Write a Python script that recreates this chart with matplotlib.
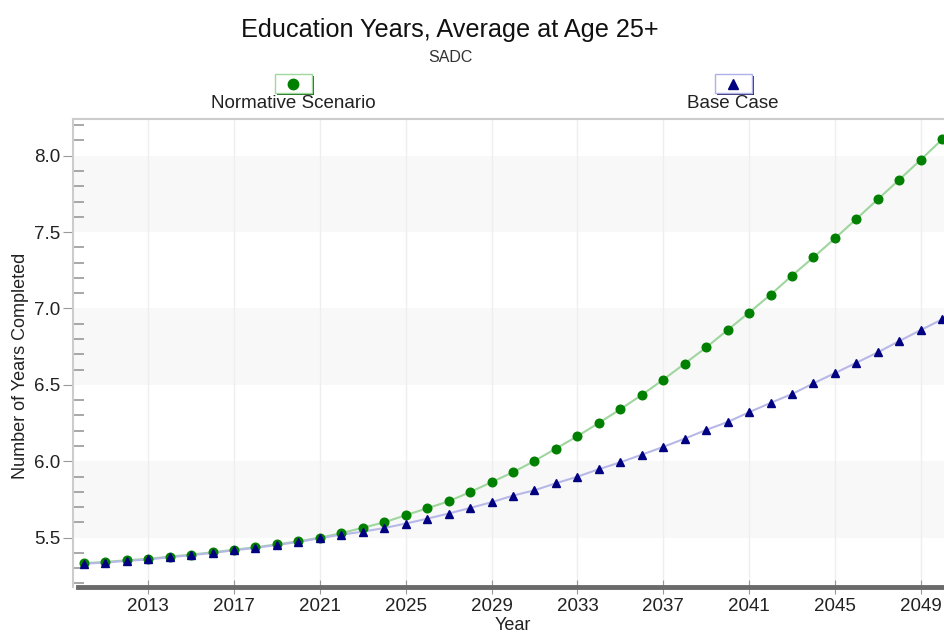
import matplotlib
matplotlib.use("Agg")
import matplotlib.pyplot as plt
from matplotlib.patches import Rectangle
from matplotlib.lines import Line2D
from matplotlib.ticker import MultipleLocator, FormatStrFormatter

plt.rcParams['font.family'] = ['Liberation Sans', 'DejaVu Sans']

years = list(range(2010, 2051))
normative = [5.333, 5.341, 5.352, 5.361, 5.376, 5.389, 5.404, 5.421, 5.437, 5.456,
             5.476, 5.500, 5.529, 5.565, 5.600, 5.647, 5.692, 5.738, 5.798, 5.863,
             5.928, 6.002, 6.083, 6.164, 6.251, 6.340, 6.434, 6.534, 6.639, 6.745,
             6.859, 6.973, 7.090, 7.215, 7.335, 7.459, 7.586, 7.715, 7.843, 7.974,
             8.107]
base_case = [5.329, 5.337, 5.348, 5.357, 5.372, 5.385, 5.400, 5.417, 5.433, 5.452,
             5.472, 5.496, 5.520, 5.539, 5.563, 5.592, 5.624, 5.658, 5.694, 5.732,
             5.775, 5.810, 5.856, 5.899, 5.948, 5.993, 6.043, 6.094, 6.148, 6.205,
             6.257, 6.321, 6.382, 6.440, 6.510, 6.577, 6.645, 6.713, 6.787, 6.859,
             6.929]
series_names = ["Normative Scenario", "Base Case"]
xtick_years = list(range(2013, 2050, 4))

W, H = 944, 634
fig = plt.figure(figsize=(W / 100, H / 100), dpi=100)

def fx(px):
    return px / W

def fy(py):
    return 1 - py / H

ax = fig.add_axes([fx(73), fy(587), (953 - 73) / W, (587 - 119) / H])
ax.set_xlim(2009.5, 2050.5)
ax.set_ylim(5.177, 8.240)

# alternating bands
for lo in [5.5, 6.5, 7.5]:
    ax.axhspan(lo, lo + 0.5, color='#f8f8f8', zorder=0, lw=0)
for xt in xtick_years:
    ax.axvline(xt, color='#eeeeee', lw=1, zorder=0.5)

green_c = '#008000'
navy_c = '#000080'
ax.plot(years, normative, color='#9ed69e', lw=1.5, zorder=2)
ax.plot(years, normative, ls='none', marker='o', ms=6.2, color=green_c, zorder=3)
ax.plot(years, base_case, color='#b8b8e8', lw=1.5, zorder=2)
ax.plot(years, base_case, ls='none', marker='^', ms=6.2, color=navy_c, zorder=4)

ax.set_xticks(xtick_years)
ax.set_yticks([5.5, 6.0, 6.5, 7.0, 7.5, 8.0])
ax.yaxis.set_major_formatter(FormatStrFormatter('%.1f'))
ax.yaxis.set_minor_locator(MultipleLocator(0.1))
ax.tick_params(axis='y', which='major', direction='out', length=7, color='#999999',
               labelsize=13.5, labelcolor='#222222', pad=2)
ax.tick_params(axis='y', which='minor', direction='in', length=8, color='#999999', width=1.2)
ax.tick_params(axis='x', which='major', direction='inout', length=10, color='#999999',
               labelsize=13.5, labelcolor='#222222', pad=3)

for s in ['left', 'top']:
    ax.spines[s].set_color('#cccccc')
    ax.spines[s].set_linewidth(1.5)
ax.spines['right'].set_visible(False)
ax.spines['bottom'].set_color('#6a6a6a')
ax.spines['bottom'].set_linewidth(3.5)
ax.spines['bottom'].set_bounds(2009.73, 2050.5)

fig.text(fx(513), fy(630), 'Year', fontsize=13, color='#222222', ha='center', va='baseline')
fig.text(fx(21), fy(366), 'Number of Years Completed', rotation=90, fontsize=13,
         color='#222222', ha='center', va='center')

fig.text(fx(450), fy(30), 'Education Years, Average at Age 25+', fontsize=18.2,
         color='#111111', ha='center', va='center')
fig.text(fx(450), fy(57), 'SADC', fontsize=11.5, color='#333333', ha='center', va='center')

# legend
def legend_item(cx, label, marker, mcolor, edge, shadow):
    bw, bh = 37, 19
    x0, y0 = cx - bw / 2, 74
    fig.add_artist(Rectangle((fx(x0 + 2), fy(y0 + bh + 2)), bw / W, bh / H,
                             transform=fig.transFigure, facecolor=shadow, edgecolor='none'))
    fig.add_artist(Rectangle((fx(x0), fy(y0 + bh)), bw / W, bh / H,
                             transform=fig.transFigure, facecolor='white', edgecolor=edge, lw=1))
    fig.add_artist(Line2D([fx(cx)], [fy(y0 + bh / 2)], transform=fig.transFigure,
                          marker=marker, ms=7.5, color=mcolor, ls='none'))
    fig.text(fx(cx), fy(104), label, fontsize=13.5, color='#222222', ha='center', va='center')

legend_item(293, series_names[0], 'o', green_c, '#a0d8a0', '#1a6b1a')
legend_item(733, series_names[1], '^', navy_c, '#b0b0e8', '#303070')

fig.savefig('out.png', dpi=100)
